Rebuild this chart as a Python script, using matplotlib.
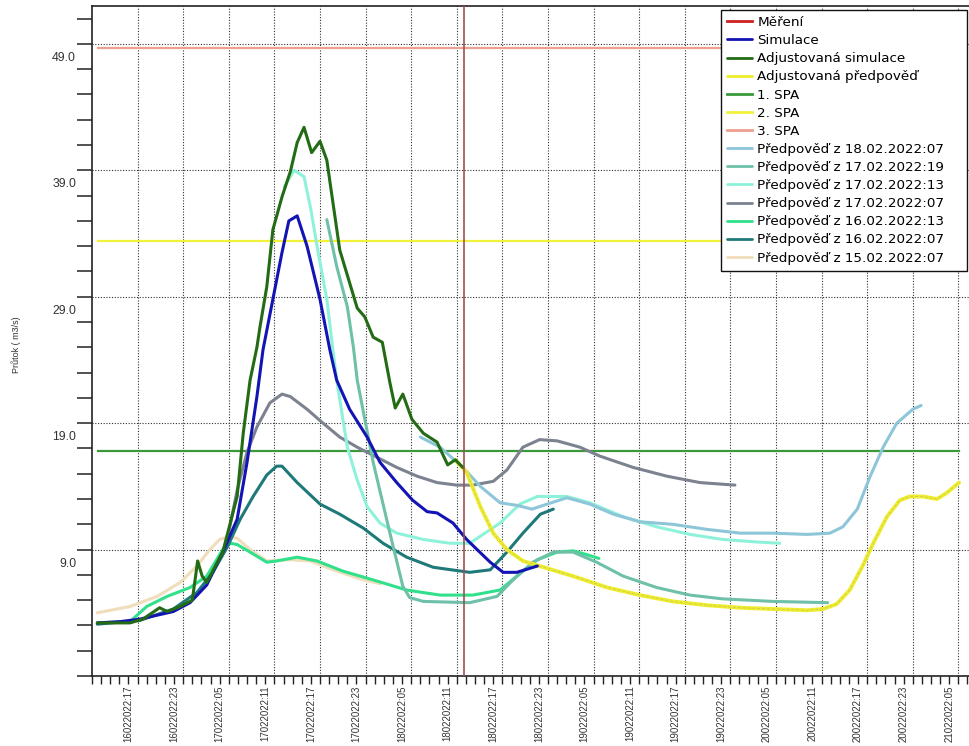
"""
Průtoky - simulace, adjustace a předpovědi (16.02. - 21.02.2022)
"""

import matplotlib
matplotlib.use('Agg')
import matplotlib.pyplot as plt
import matplotlib.transforms as mtransforms
from datetime import datetime, timedelta

# čas v hodinách od 16.02.2022 12:00
START = datetime(2022, 2, 16, 12)
NOW_T = 49.0   # okamžik vydání (svislá čára)

# Měření - bez dat
mer_t = []
mer_q = []

# Simulace
sim_t = [0.7, 3.7, 6.3, 10.7, 12.9, 15.1, 17.2, 19.1, 20.4, 21.7, 22.5, 23.8, 25.0, 25.9, 27.0, 28.3,
         30.0, 31.3, 32.2, 33.9, 36.2, 37.9, 40.1, 42.2, 44.1, 45.4, 47.5, 49.3, 52.4, 54.1, 55.9, 58.6]
sim_q = [3.2, 3.3, 3.5, 4.1, 4.8, 6.2, 8.8, 11.4, 15.9, 21.1, 24.8, 28.8, 32.5, 35.0, 35.4, 33.0,
         28.8, 24.8, 22.4, 20.1, 17.9, 15.9, 14.3, 12.9, 12.0, 11.9, 11.1, 9.8, 8.0, 7.2, 7.2, 7.7]

# Adjustovaná simulace
adj_t = [0.7, 5.0, 6.7, 8.9, 9.9, 11.6, 13.2, 13.9, 14.5, 15.1, 17.2, 19.1, 19.9, 20.8, 21.7, 22.1,
         23.0, 23.8, 25.0, 26.1, 27.0, 27.9, 28.9, 30.0, 30.9, 32.6, 33.9, 34.9, 35.9, 37.0, 38.2,
         39.2, 39.9, 40.9, 42.1, 43.6, 45.4, 46.8, 47.8, 48.8]
adj_q = [3.2, 3.2, 3.5, 4.4, 4.1, 4.5, 5.0, 8.1, 6.9, 6.4, 8.8, 13.2, 18.2, 22.4, 25.0, 26.6,
         29.8, 34.3, 36.9, 38.9, 41.2, 42.4, 40.4, 41.3, 39.8, 32.7, 30.1, 28.1, 27.4, 25.8, 25.4,
         22.2, 20.2, 21.3, 19.3, 18.2, 17.5, 15.7, 16.1, 15.5]

# Adjustovaná předpověď
apr_t = [47.8, 49.3, 51.1, 52.8, 54.6, 56.7, 58.9, 63.3, 67.8, 72.1, 76.4, 80.9, 85.3, 89.6,
         94.1, 96.2, 98.0, 99.7, 101.4, 102.8, 104.6, 106.3, 107.6, 109.3, 111.2, 112.5, 114.1]
apr_q = [16.1, 15.1, 12.4, 10.3, 9.0, 8.1, 7.7, 6.9, 6.0, 5.4, 4.9, 4.6, 4.4, 4.3,
         4.2, 4.3, 4.7, 5.8, 7.7, 9.5, 11.6, 12.9, 13.2, 13.2, 13.0, 13.5, 14.3]

# stupně povodňové aktivity
spa_t = [0.8, 114.1]
spa1 = 16.8
spa2 = 33.4
spa3 = 48.7

# Předpověď z 18.02.2022:07
p1807_t = [43.2, 45.8, 48.8, 51.1, 53.7, 55.9, 57.9, 59.9, 62.5, 65.5, 68.6, 72.1, 76.4, 80.9,
           85.3, 89.6, 94.1, 97.1, 98.8, 100.7, 102.4, 104.1, 105.9, 108.0, 109.1]
p1807_q = [17.9, 17.1, 15.5, 14.0, 12.7, 12.5, 12.2, 12.6, 13.1, 12.6, 11.8, 11.2, 11.0, 10.6,
           10.3, 10.3, 10.2, 10.3, 10.8, 12.2, 14.8, 17.1, 19.0, 20.1, 20.4]

# Předpověď z 17.02.2022:19
p1719_t = [30.9, 32.2, 33.6, 34.4, 34.9, 37.0, 39.2, 40.9, 41.8, 43.6, 49.7, 53.3, 55.4, 58.0,
           60.7, 63.3, 66.4, 69.9, 74.3, 78.7, 83.0, 89.6, 96.8]
p1719_q = [35.1, 31.4, 28.2, 25.0, 22.4, 15.9, 10.3, 6.1, 5.2, 4.9, 4.8, 5.3, 6.6, 8.0,
           8.8, 8.8, 8.0, 6.9, 6.0, 5.4, 5.1, 4.9, 4.8]

# Předpověď z 17.02.2022:13
p1713_t = [25.3, 26.6, 27.9, 28.8, 29.7, 30.9, 31.7, 32.2, 33.6, 34.9, 36.2, 37.9, 40.1, 43.6,
           47.1, 49.7, 53.7, 56.3, 58.6, 62.5, 65.5, 69.9, 74.3, 78.7, 83.0, 87.5, 90.5]
p1713_q = [37.7, 39.0, 38.5, 35.9, 32.7, 28.8, 24.8, 22.4, 17.1, 14.5, 12.4, 11.1, 10.3, 9.8,
           9.5, 9.5, 11.1, 12.6, 13.2, 13.2, 12.7, 11.6, 10.8, 10.2, 9.8, 9.6, 9.5]

# Předpověď z 17.02.2022:07
p1707_t = [17.8, 19.1, 20.4, 21.7, 23.4, 25.0, 26.1, 28.3, 30.4, 32.6, 34.9, 37.5, 40.1, 42.8,
           45.4, 48.0, 50.1, 52.8, 54.6, 56.7, 58.9, 61.2, 64.2, 66.8, 71.2, 75.7, 80.0, 84.6]
p1707_q = [9.8, 13.7, 16.7, 18.7, 20.6, 21.3, 21.1, 20.1, 19.0, 17.9, 17.1, 16.3, 15.5, 14.8,
           14.3, 14.1, 14.1, 14.4, 15.3, 17.1, 17.7, 17.6, 17.1, 16.4, 15.5, 14.8, 14.3, 14.1]

# Předpověď z 16.02.2022:13
p1613_t = [0.7, 5.0, 7.2, 9.9, 12.9, 15.1, 17.2, 18.2, 19.1, 20.8, 23.0, 24.3, 27.0, 29.6, 33.0,
           37.0, 41.4, 45.8, 50.1, 53.7, 55.9, 58.6, 61.2, 63.3, 65.1, 66.7]
p1613_q = [3.2, 3.3, 4.5, 5.3, 6.0, 6.9, 9.0, 9.5, 9.4, 8.8, 8.0, 8.1, 8.4, 8.1, 7.3,
           6.6, 5.8, 5.4, 5.4, 5.8, 6.9, 8.2, 8.8, 8.9, 8.6, 8.3]

# Předpověď z 16.02.2022:07
p1607_t = [0.7, 6.3, 10.7, 13.8, 15.9, 17.8, 19.5, 21.2, 23.0, 24.3, 25.0, 27.0, 30.0, 32.6,
           35.7, 38.3, 41.4, 44.9, 49.7, 52.4, 54.6, 56.7, 59.0, 60.7]
p1607_q = [3.1, 3.4, 4.3, 5.6, 7.2, 9.2, 11.4, 13.2, 14.9, 15.6, 15.6, 14.3, 12.6, 11.8,
           10.7, 9.5, 8.4, 7.6, 7.2, 7.4, 8.8, 10.3, 11.8, 12.2]

# Předpověď z 15.02.2022:07
p1507_t = [0.7, 5.0, 8.6, 11.6, 13.8, 15.5, 16.8, 17.9, 19.1, 20.8, 23.0, 26.1, 28.7, 32.2,
           35.7, 37.9]
p1507_q = [4.0, 4.5, 5.3, 6.4, 7.7, 9.0, 9.8, 10.0, 9.9, 9.0, 8.1, 8.2, 8.1, 7.3,
           6.6, 6.3]

# --- graf ---
W, H = 969, 746
fig = plt.figure(figsize=(W / 100, H / 100), dpi=100)
ax = fig.add_axes([92 / W, 70 / H, 877 / W, 670 / H])

LW = 2.2
dots = (0, (1, 1.5))
line_kw = dict(solid_joinstyle='round', solid_capstyle='round')

# mřížka
for g in range(6, 116, 6):
    ax.axvline(g, color='#303030', lw=0.8, ls=dots, zorder=1)
for g in range(9, 50, 10):
    ax.axhline(g, color='#303030', lw=0.8, ls=dots, zorder=1)

# SPA
l_spa1, = ax.plot(spa_t, [spa1, spa1], color='#3a9a3a', lw=1.6, zorder=2)
l_spa2, = ax.plot(spa_t, [spa2, spa2], color='#f2f23c', lw=1.6, zorder=2)
l_spa3, = ax.plot(spa_t, [spa3, spa3], color='#eea090', lw=1.6, zorder=2)

# předpovědi
l_1507, = ax.plot(p1507_t, p1507_q, color='#f0ddbb', lw=LW, zorder=3, **line_kw)
l_1613, = ax.plot(p1613_t, p1613_q, color='#30e08a', lw=LW, zorder=3, **line_kw)
l_1607, = ax.plot(p1607_t, p1607_q, color='#1e7a78', lw=LW, zorder=3, **line_kw)
l_1707, = ax.plot(p1707_t, p1707_q, color='#7c8290', lw=LW, zorder=3, **line_kw)
l_1713, = ax.plot(p1713_t, p1713_q, color='#8ef2da', lw=LW, zorder=3, **line_kw)
l_1719, = ax.plot(p1719_t, p1719_q, color='#6ec0a8', lw=LW, zorder=3, **line_kw)
l_1807, = ax.plot(p1807_t, p1807_q, color='#8cc6d8', lw=LW, zorder=3, **line_kw)

l_apr, = ax.plot(apr_t, apr_q, color='#eded2a', lw=2.8, zorder=4, **line_kw)
ax.plot(apr_t, apr_q, color='#c8c070', lw=0.5, ls=(0, (4, 3)), zorder=4)

l_sim, = ax.plot(sim_t, sim_q, color='#1414b4', lw=LW, zorder=5, **line_kw)
l_adj, = ax.plot(adj_t, adj_q, color='#236b14', lw=LW, zorder=6, **line_kw)
l_mer, = ax.plot(mer_t, mer_q, color='#cc1f1f', lw=LW, zorder=7)

# okamžik vydání
ax.axvline(NOW_T, color='#a05050', lw=1.2, zorder=8)

ax.set_xlim(0, 115.4)
ax.set_ylim(-1, 52)

# osa x: značky po 1.2 h, popisky hodinu před čarou mřížky
lab_pos = [6 * k - 1.2 for k in range(1, 20)]
lab_txt = [(START + timedelta(hours=6 * k - 1)).strftime('%d%m%Y:%H') for k in range(1, 20)]
ax.set_xticks(lab_pos)
ax.set_xticklabels(lab_txt, rotation=90, fontsize=7, color='#333333', family='Liberation Sans')
ax.set_xticks([1.2 * i for i in range(0, 97)], minor=True)
ax.tick_params(axis='x', which='both', direction='out', length=5.5, width=1, color='#222222', pad=1.5)

# osa y
ax.set_yticks(list(range(9, 50, 10)))
ax.set_yticklabels([f'{v:.1f}' for v in range(9, 50, 10)], fontsize=8.8, color='#333333',
                   family='Liberation Sans')
ax.set_yticks(list(range(-1, 52, 2)), minor=True)
ax.tick_params(axis='y', which='both', direction='out', length=10.5, width=1.2, color='#333333', pad=1)
shift = mtransforms.ScaledTranslation(0, -8 / 100, fig.dpi_scale_trans)
for lab in ax.get_yticklabels():
    lab.set_va('top')
    lab.set_transform(lab.get_transform() + shift)

for s in ['left', 'bottom', 'top']:
    ax.spines[s].set_color('#222222')
    ax.spines[s].set_linewidth(1.2)
ax.spines['right'].set_visible(False)

fig.text(16 / W, 1 - 345 / H, 'Průtok ( m3/s)', rotation=90, fontsize=6.5, color='#333333',
         family='Liberation Sans', ha='center', va='center')

# legenda
handles = [l_mer, l_sim, l_adj, l_apr, l_spa1, l_spa2, l_spa3,
           l_1807, l_1719, l_1713, l_1707, l_1613, l_1607, l_1507]
labels = ['Měření', 'Simulace', 'Adjustovaná simulace', 'Adjustovaná předpověď',
          '1. SPA', '2. SPA', '3. SPA',
          'Předpověď z 18.02.2022:07', 'Předpověď z 17.02.2022:19', 'Předpověď z 17.02.2022:13',
          'Předpověď z 17.02.2022:07', 'Předpověď z 16.02.2022:13', 'Předpověď z 16.02.2022:07',
          'Předpověď z 15.02.2022:07']
leg = ax.legend(handles, labels, loc='upper left', mode='expand',
                bbox_to_anchor=(721 / W, 0, 246 / W, 1 - 10 / H), bbox_transform=fig.transFigure,
                prop={'family': 'DejaVu Sans', 'size': 9.7}, handlelength=1.85, handletextpad=0.4,
                borderpad=0.45, labelspacing=0.38, borderaxespad=0, fancybox=False,
                framealpha=1, edgecolor='#111111')
leg.get_frame().set_linewidth(1.0)
leg.set_zorder(10)
for h in leg.get_lines():
    h.set_linewidth(2.0)

fig.savefig('out.png', dpi=100)
